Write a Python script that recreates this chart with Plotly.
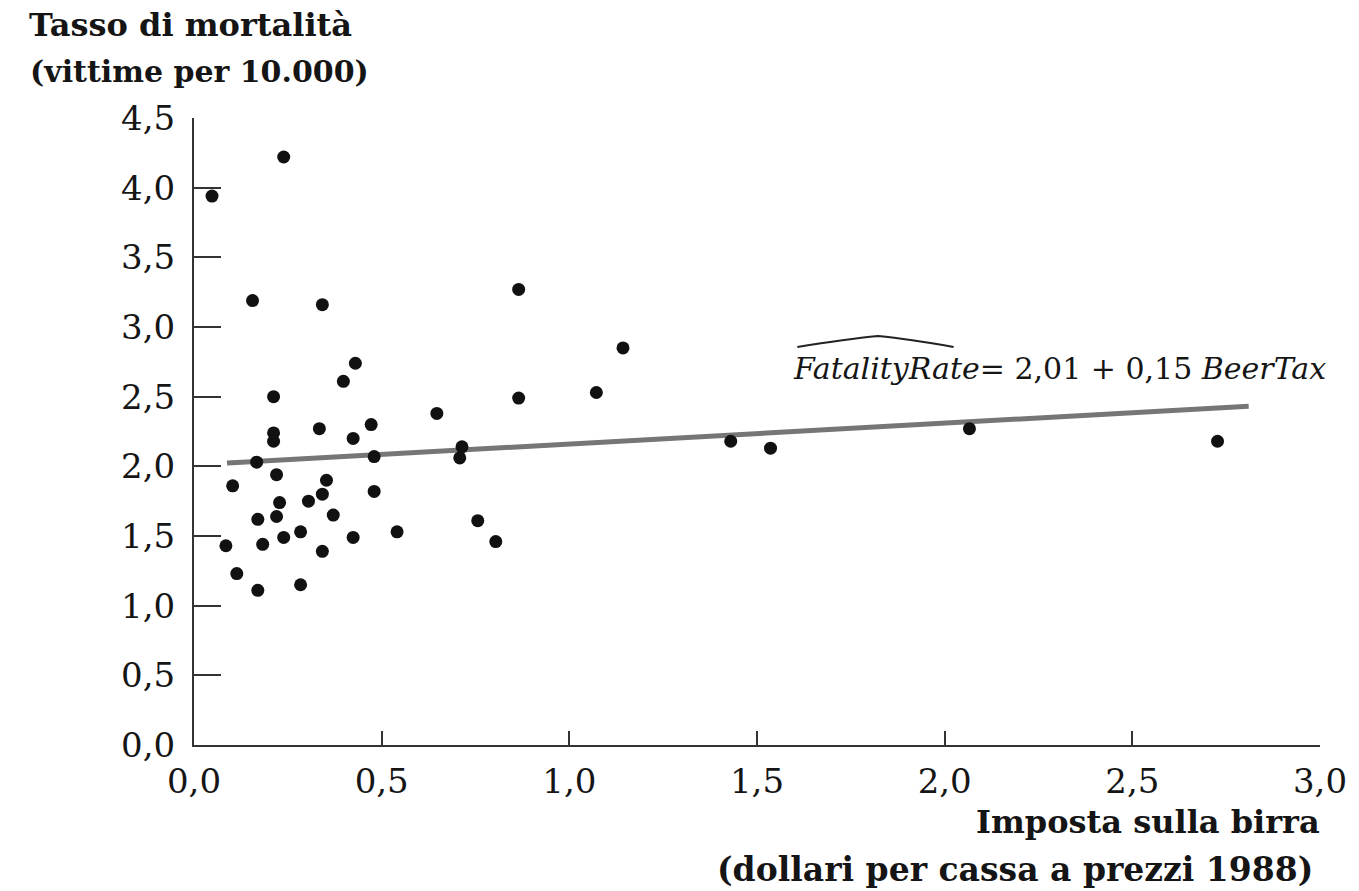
import plotly.graph_objects as go

# ---- data ----
beer_tax = [0.048, 0.239, 0.156, 0.342, 0.865, 1.143, 1.072, 0.865, 0.647, 0.430,
            0.398, 0.212, 0.212, 0.212, 0.334, 0.472, 0.424, 0.480, 0.714, 0.708,
            0.167, 0.220, 0.103, 0.353, 0.480, 0.342, 0.305, 0.228, 0.220, 0.371,
            0.170, 0.756, 0.541, 0.284, 0.239, 0.424, 0.183, 0.085, 0.804, 0.342,
            0.114, 0.284, 0.170, 1.430, 1.536, 2.066, 2.727]
fatality_rate = [3.94, 4.22, 3.19, 3.16, 3.27, 2.85, 2.53, 2.49, 2.38, 2.74,
                 2.61, 2.50, 2.24, 2.18, 2.27, 2.30, 2.20, 2.07, 2.14, 2.06,
                 2.03, 1.94, 1.86, 1.90, 1.82, 1.80, 1.75, 1.74, 1.64, 1.65,
                 1.62, 1.61, 1.53, 1.53, 1.49, 1.49, 1.44, 1.43, 1.46, 1.39,
                 1.23, 1.15, 1.11, 2.18, 2.13, 2.27, 2.18]

intercept = 2.01
slope = 0.15
line_x = [0.088, 2.81]
line_y = [intercept + slope * v for v in line_x]

x_ticks = [0.0, 0.5, 1.0, 1.5, 2.0, 2.5, 3.0]
y_ticks = [0.0, 0.5, 1.0, 1.5, 2.0, 2.5, 3.0, 3.5, 4.0, 4.5]

y_title = ["Tasso di mortalità", "(vittime per 10.000)"]
x_title = ["Imposta sulla birra", "(dollari per cassa a prezzi 1988)"]
equation = "<i>FatalityRate</i>= 2,01 + 0,15 <i>BeerTax</i>"

# ---- layout geometry (pixels) ----
W, H = 1359, 891
L, R, T, B = 194, 1325, 118, 745   # plot area

def px(xp):
    return (xp - L) / (R - L)

def py(yp):
    return (B - yp) / (B - T)

FONT = "DejaVu Serif"
INK = "#151515"

fig = go.Figure()
fig.add_trace(go.Scatter(
    x=line_x, y=line_y, mode="lines",
    line=dict(color="#767676", width=5), hoverinfo="skip", showlegend=False))
fig.add_trace(go.Scatter(
    x=beer_tax, y=fatality_rate, mode="markers",
    marker=dict(color="#111111", size=13, line=dict(width=0)),
    showlegend=False))

def title_ann(text, x, y, anchor, size):
    return dict(text="<b>%s</b>" % text, x=px(x), y=py(y), xref="paper", yref="paper",
                xanchor=anchor, yanchor="middle", showarrow=False, borderpad=0,
                font=dict(family=FONT, size=size, color=INK))

annotations = [
    title_ann(y_title[0], 190, 25, "center", 32),
    title_ann(y_title[1], 200, 72, "center", 30),
    title_ann(x_title[0], 1326, 822, "right", 32),
    title_ann(x_title[1], 1319, 870, "right", 33),
    dict(text=equation, x=px(795), y=py(368), xref="paper", yref="paper",
         xanchor="left", yanchor="middle", showarrow=False, borderpad=0,
         font=dict(family=FONT, size=30, color=INK)),
]

hat = "M %f %f Q %f %f %f %f Q %f %f %f %f" % (
    px(800), py(347), px(850), py(339), px(881), py(336),
    px(912), py(339), px(957), py(347))

fig.update_layout(
    width=W, height=H,
    margin=dict(l=L, r=W - R, t=T, b=H - B, pad=0),
    paper_bgcolor="white", plot_bgcolor="white",
    separators=",.",
    font=dict(family=FONT, size=34, color=INK),
    annotations=annotations,
    shapes=[dict(type="path", path=hat, xref="paper", yref="paper",
                 line=dict(color="#222222", width=2))],
    xaxis=dict(range=[0, 3], tickvals=x_ticks, tickformat=".1f",
               showline=True, linecolor="#333333", linewidth=2,
               ticks="inside", ticklen=14, tickwidth=2, tickcolor="#333333",
               showgrid=False, zeroline=False, ticklabelstandoff=5,
               tickfont=dict(family=FONT, size=34, color=INK)),
    yaxis=dict(range=[0, 4.5], tickvals=y_ticks, tickformat=".1f",
               showline=True, linecolor="#333333", linewidth=2,
               ticks="inside", ticklen=27, tickwidth=2, tickcolor="#333333",
               showgrid=False, zeroline=False, ticklabelstandoff=10,
               tickfont=dict(family=FONT, size=34, color=INK)),
)

fig.write_html("out.html", config=dict(displayModeBar=False),
               post_script="document.body.style.margin='0';document.body.style.overflow='hidden';")
